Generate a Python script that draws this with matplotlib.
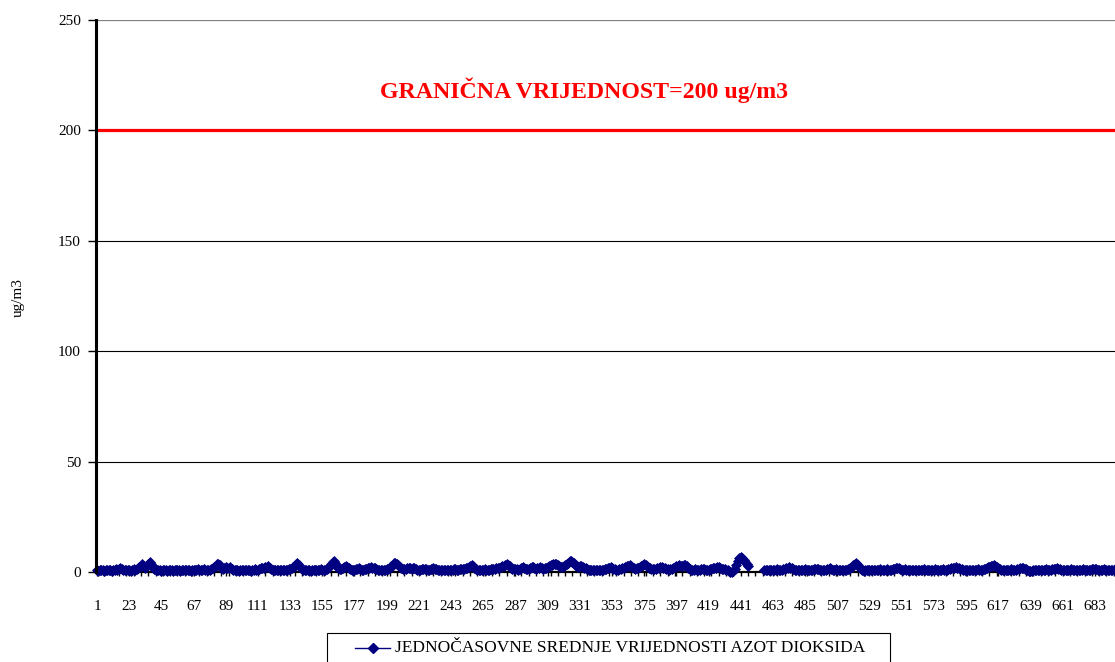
import matplotlib
matplotlib.use("Agg")
import matplotlib.pyplot as plt
from matplotlib.lines import Line2D
from matplotlib.patches import Rectangle
import numpy as np

# Hourly NO2 averages (ug/m3), hours 1..700 (None = missing)
values_001_100 = [0.8,0.6,0.9,1.0,0.7,0.5,0.8,1.1,0.9,0.7,
                  0.6,0.8,1.0,1.2,0.9,1.3,1.6,1.2,0.8,0.7,
                  0.9,1.1,0.8,0.6,0.9,1.2,1.0,1.4,2.0,2.4,
                  2.8,3.4,2.6,1.9,2.5,3.6,4.6,3.8,2.2,1.4,
                  1.0,0.8,0.7,0.9,0.6,0.8,1.0,0.7,0.5,0.8,
                  0.9,0.7,0.6,0.8,1.0,0.9,0.7,0.6,0.8,0.9,
                  1.1,0.8,0.7,0.9,0.6,0.8,1.0,0.9,0.7,1.2,
                  0.9,0.8,1.1,1.3,1.0,0.8,0.7,0.9,1.2,1.6,
                  2.2,2.9,3.4,3.8,3.0,2.0,1.4,1.6,2.1,1.6,
                  1.9,2.2,1.5,1.0,0.8,0.9,0.7,0.6,0.8,1.0]
values_101_200 = [0.8,0.7,0.9,1.1,0.8,0.6,0.9,1.0,1.2,0.9,
                  1.1,1.4,1.6,1.8,2.0,2.2,2.4,2.5,2.0,1.5,
                  1.1,0.9,0.8,1.0,0.7,0.9,1.1,0.8,0.7,0.9,
                  1.0,1.2,1.4,1.8,2.3,2.9,3.6,4.0,3.3,2.2,
                  1.4,1.0,0.8,0.7,0.9,0.8,0.6,0.8,1.0,0.9,
                  0.7,0.8,1.0,1.2,1.0,0.9,1.1,1.4,2.0,2.8,
                  3.6,4.5,5.0,4.0,2.6,1.6,1.3,1.5,1.9,2.2,
                  2.5,2.3,1.8,1.4,1.1,0.9,1.0,1.2,1.4,1.6,
                  1.3,1.0,0.9,1.2,1.5,1.8,2.0,2.1,1.8,2.0,
                  1.6,1.2,0.9,0.8,1.0,0.9,0.8,1.0,1.2,1.5]
values_201_300 = [1.9,2.5,3.2,3.9,4.3,3.8,3.0,2.4,1.8,1.4,
                  1.2,1.5,1.8,2.0,1.7,1.4,1.6,1.9,1.5,1.1,
                  0.9,1.0,1.2,1.4,1.5,1.3,1.1,1.0,1.2,1.4,
                  1.6,1.5,1.3,1.0,0.9,1.1,1.0,0.8,0.9,1.1,
                  1.0,0.8,0.9,1.1,1.3,1.2,1.0,0.9,1.2,1.5,
                  1.2,1.4,1.6,1.9,2.3,2.7,3.0,2.6,2.0,1.5,
                  0.9,1.1,1.0,0.8,1.0,1.2,1.1,0.9,1.0,1.3,
                  1.3,1.2,1.4,1.6,1.8,2.0,2.3,2.6,2.9,3.2,
                  3.5,3.3,2.6,1.9,1.4,1.2,1.4,1.3,1.1,1.5,
                  1.8,2.1,1.7,1.3,1.2,1.5,1.9,2.3,2.1,1.6]
values_301_400 = [1.4,1.6,1.9,2.2,1.8,1.5,1.7,2.0,2.4,2.8,
                  3.0,3.2,3.4,3.6,3.5,3.3,2.7,2.1,2.4,2.9,
                  3.3,3.8,4.3,4.8,5.0,4.6,4.0,3.2,2.6,2.3,
                  2.5,2.7,2.4,2.0,1.6,1.3,1.1,1.0,0.9,1.1,
                  1.0,0.9,1.1,1.0,0.8,0.9,1.1,1.3,1.5,1.7,
                  1.9,2.1,1.8,1.5,1.2,1.0,1.1,1.3,1.5,1.8,
                  2.0,2.3,2.6,2.9,3.1,2.8,2.3,1.8,1.5,1.7,
                  2.0,2.4,2.8,3.2,3.4,3.0,2.5,2.0,1.6,1.4,
                  1.2,1.3,1.5,1.7,1.9,2.1,2.2,2.0,1.7,1.4,
                  1.2,1.1,1.3,1.5,1.8,2.2,2.6,2.9,3.0,2.6]
values_401_500 = [2.8,3.0,3.1,2.5,1.9,1.4,1.1,0.9,1.0,1.2,
                  1.1,0.9,1.0,1.2,1.4,1.2,1.0,0.9,1.1,1.3,
                  1.5,1.7,1.8,2.0,2.2,2.1,1.8,1.5,1.3,1.2,
                  1.0,0.7,0.4,0.1,0.0,0.3,1.2,3.0,5.2,6.5,
                  6.8,6.2,5.4,4.6,3.6,2.8,None,None,None,None,
                  None,None,None,None,None,None,0.8,1.0,0.9,0.8,
                  1.0,1.1,0.9,0.8,1.0,1.2,1.0,0.9,1.1,1.3,
                  1.5,1.8,2.0,2.2,2.0,1.6,1.3,1.1,0.9,1.0,
                  1.1,0.9,0.8,1.0,1.2,1.0,0.9,0.8,1.0,1.1,
                  1.3,1.5,1.4,1.2,1.0,0.9,1.1,1.0,0.9,1.2]
values_501_600 = [1.4,1.6,1.3,1.1,1.0,1.2,1.1,0.9,0.8,1.0,
                  1.1,0.9,1.0,1.2,1.5,1.9,2.4,3.0,3.6,4.0,
                  3.2,2.2,1.4,0.8,0.5,0.7,0.9,1.0,0.8,0.9,
                  1.1,1.0,0.8,0.9,1.1,1.3,1.1,0.9,0.8,1.0,
                  1.2,1.0,0.9,1.1,1.3,1.5,1.7,1.8,1.6,1.3,
                  1.1,1.0,1.2,1.0,0.9,0.8,1.0,1.1,0.9,0.8,
                  1.0,1.1,0.9,0.8,1.0,1.2,1.0,0.9,0.8,1.0,
                  1.1,0.9,1.0,1.2,1.1,0.9,0.8,1.0,1.2,1.0,
                  0.9,1.1,1.3,1.5,1.7,1.9,2.0,2.1,2.0,1.8,
                  1.5,1.2,1.0,0.9,1.1,1.0,0.8,0.9,1.0,1.1]
values_601_700 = [0.9,1.0,1.2,1.0,0.9,1.1,1.3,1.5,1.8,2.1,
                  2.4,2.7,2.9,3.0,2.6,2.1,1.6,1.2,1.0,0.9,
                  1.1,1.0,0.8,0.9,1.1,1.2,1.0,0.9,1.1,1.3,
                  1.5,1.6,1.7,1.6,1.4,1.2,1.0,0.6,0.3,0.5,
                  0.8,1.0,0.9,0.8,1.0,1.1,0.9,0.8,1.0,1.2,
                  1.1,0.9,1.0,1.2,1.3,1.5,1.6,1.4,1.2,1.0,
                  0.9,1.1,1.0,0.8,0.9,1.1,1.2,1.0,0.9,0.8,
                  1.0,1.1,0.9,1.0,1.2,1.1,0.9,0.8,1.0,1.1,
                  1.3,1.4,1.5,1.3,1.1,1.0,0.9,1.1,1.2,1.0,
                  0.9,0.8,1.0,1.1,0.9,1.0,1.2,1.0,0.9,1.1]

n_categories = 744
limit_value = 200
y_ticks = [0, 50, 100, 150, 200, 250]
x_tick_labels = list(range(1, 700, 22))
title_text = "GRANIČNA VRIJEDNOST=200 ug/m3"
series_label = "JEDNOČASOVNE SREDNJE VRIJEDNOSTI AZOT DIOKSIDA"
y_label = "ug/m3"

values = (values_001_100 + values_101_200 + values_201_300 + values_301_400 +
          values_401_500 + values_501_600 + values_601_700)
y = np.array([np.nan if v is None else v for v in values], dtype=float)
x = np.arange(1, len(y) + 1)

plt.rcParams['font.family'] = ['Liberation Serif', 'DejaVu Serif']

W, H = 1115, 662
fig = plt.figure(figsize=(W / 100, H / 100), dpi=100)
fig.patch.set_facecolor('white')

slope = 1.463  # px per category
x0 = 0.4
x1 = n_categories + 0.5
left_px = 97 - (1 - x0) * slope
width_px = (x1 - x0) * slope
ax = fig.add_axes([left_px / W, (H - 572) / H, width_px / W, 552 / H])
ax.set_xlim(x0, x1)
ax.set_ylim(0, 250)

for t in [50, 100, 150]:
    ax.axhline(t, color='black', linewidth=0.8, zorder=1)
ax.axhline(250, color='#808080', linewidth=0.9, zorder=1)
ax.axhline(limit_value, color='#FF0000', linewidth=2.3, zorder=2)

ax.plot(x, y, color='#000080', marker='D', markersize=5.5, linewidth=1.0,
        markeredgewidth=0.5, clip_on=False, zorder=3)

for s in ['top', 'right']:
    ax.spines[s].set_visible(False)
ax.spines['left'].set_linewidth(2.2)
ax.spines['bottom'].set_linewidth(1.6)
ax.spines['left'].set_zorder(4)
ax.spines['bottom'].set_zorder(2.5)

ax.set_yticks(y_ticks)
ax.set_yticklabels([str(t) for t in y_ticks])
ax.tick_params(axis='y', direction='out', length=6, width=1.0, pad=5, labelsize=11)

ax.set_xticks(x_tick_labels)
ax.set_xticklabels([str(t) for t in x_tick_labels])
ax.set_xticks(np.arange(1, n_categories + 1, 5), minor=True)
ax.tick_params(axis='x', which='major', direction='out', length=3, width=1.0,
               pad=17, labelsize=11)
ax.tick_params(axis='x', which='minor', direction='out', length=3, width=1.0)

fig.text(18 / W, 1 - 298 / H, y_label, rotation=90, ha='center', va='center',
         fontsize=11)

fig.text(584 / W, 1 - 90 / H, title_text, color='#FF0000', fontweight='bold',
         ha='center', va='center', fontsize=17.2)

# Legend (drawn as a box with a sample line and the series name)
lx0, lx1, ly0, ly1 = 327, 890, 633, 672
fig.patches.append(Rectangle((lx0 / W, 1 - ly1 / H), (lx1 - lx0) / W, (ly1 - ly0) / H,
                             transform=fig.transFigure, facecolor='white',
                             edgecolor='black', linewidth=0.8))
ly = 1 - 648 / H
fig.lines.append(Line2D([355 / W, 390 / W], [ly, ly], transform=fig.transFigure,
                        color='#000080', linewidth=1.0))
fig.lines.append(Line2D([373 / W], [ly], transform=fig.transFigure, color='#000080',
                        marker='D', markersize=5.5, linestyle='none'))
fig.text(395 / W, ly, series_label, ha='left', va='center', fontsize=12.5)

fig.savefig('out.png', dpi=100, facecolor='white')
